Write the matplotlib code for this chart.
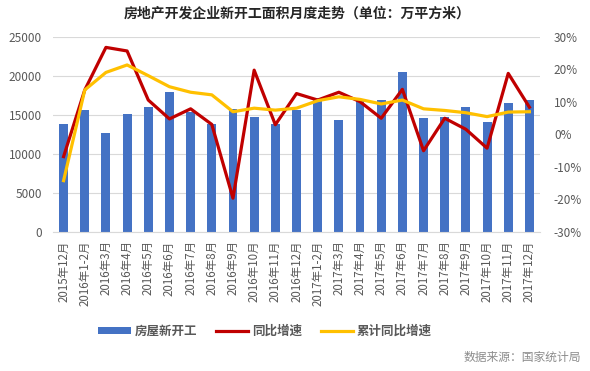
import matplotlib.pyplot as plt
from matplotlib.ticker import FuncFormatter

plt.rcParams['font.family'] = ['Noto Sans CJK SC', 'DejaVu Sans']

# data
months = ['2015年12月', '2016年1-2月', '2016年3月', '2016年4月', '2016年5月', '2016年6月',
          '2016年7月', '2016年8月', '2016年9月', '2016年10月', '2016年11月', '2016年12月',
          '2017年1-2月', '2017年3月', '2017年4月', '2017年5月', '2017年6月', '2017年7月',
          '2017年8月', '2017年9月', '2017年10月', '2017年11月', '2017年12月']
new_start = [13800, 15600, 12700, 15100, 16000, 17900, 15400, 13850, 15800, 14700, 13900, 15600,
             17200, 14300, 16800, 16900, 20500, 14600, 14700, 16000, 14100, 16500, 16900]
yoy = [-6.8, 13.7, 26.8, 25.7, 10.6, 4.8, 7.9, 3.1, -19.6, 19.8, 3.0, 12.6,
       10.6, 13.0, 10.1, 5.0, 13.9, -5.0, 5.0, 1.6, -4.2, 18.8, 8.4]
cum_yoy = [-14.2, 13.7, 19.1, 21.4, 18.1, 14.7, 13.0, 12.2, 7.0, 8.1, 7.5, 8.1,
           10.4, 11.6, 10.8, 9.4, 10.6, 7.9, 7.4, 6.7, 5.5, 6.9, 7.0]

x = list(range(len(months)))
txt = '#595959'

fig = plt.figure(figsize=(5.9, 3.71), dpi=100)
ax = fig.add_axes([53 / 590, 1 - 232 / 371, 487 / 590, 195 / 371])
ax2 = ax.twinx()

bars = ax.bar(x, new_start, width=0.42, color='#4472C4', zorder=2, label='房屋新开工')
l1, = ax2.plot(x, yoy, color='#C00000', lw=2.3, label='同比增速')
l2, = ax2.plot(x, cum_yoy, color='#FFC000', lw=2.3, label='累计同比增速')

ax.set_xlim(-0.5, len(months) - 0.5)
ax.set_ylim(0, 25000)
ax.set_yticks(range(0, 25001, 5000))
ax2.set_ylim(-30, 30)
ax2.set_yticks(range(-30, 31, 10))
ax2.yaxis.set_major_formatter(FuncFormatter(lambda v, p: f'{v:.0f}%'))

ax.grid(axis='y', color='#D9D9D9', lw=0.8, zorder=0)
ax.set_axisbelow(True)
for a in (ax, ax2):
    for s in a.spines.values():
        s.set_visible(False)
    a.tick_params(length=0, labelsize=8.5, colors=txt)
ax.spines['bottom'].set_visible(True)
ax.spines['bottom'].set_color('#D9D9D9')

ax.set_xticks(x)
ax.set_xticklabels(months, rotation=90, fontsize=8.3, color=txt)
ax.tick_params(axis='x', pad=6)
ax.tick_params(axis='y', pad=8)
ax2.tick_params(axis='y', pad=10)

fig.text(0.503, 0.962, '房地产开发企业新开工面积月度走势（单位：万平方米）', ha='center', va='center',
         fontsize=10, fontweight='bold', color='#262626')

leg = fig.legend(handles=[bars, l1, l2], loc='center', bbox_to_anchor=(265 / 590, 1 - 331 / 371),
                 ncol=3, frameon=False, fontsize=9, handlelength=2.6, handleheight=0.5,
                 columnspacing=1.5, handletextpad=0.3)
for t in leg.get_texts():
    t.set_color(txt)
    t.set_fontweight('bold')

fig.text(0.985, 1 - 357 / 371, '数据来源：国家统计局', ha='right', va='center', fontsize=8.5, color='#8c8c8c')

fig.savefig('out.png', dpi=100)
